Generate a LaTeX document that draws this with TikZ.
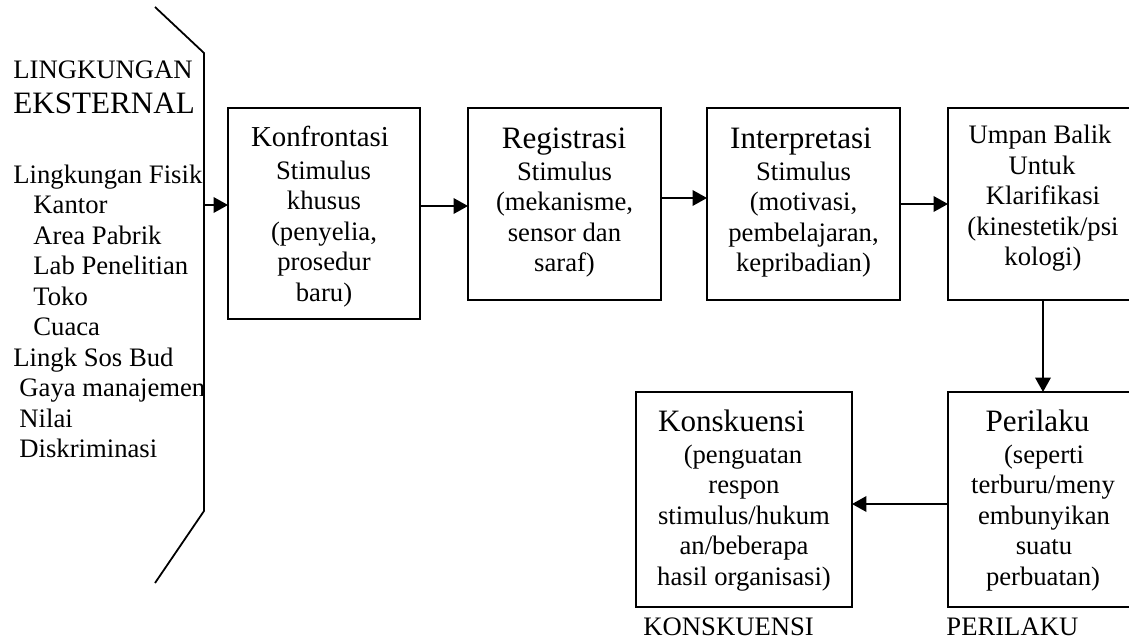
\documentclass[tikz,border=0pt]{standalone}
\usepackage{fontspec}
\setmainfont{Liberation Serif}
\usetikzlibrary{arrows.meta}
\begin{document}
\begin{tikzpicture}[x=0.45pt,y=-0.45pt,
  stepbox/.style={draw, line width=0.8pt, inner sep=0pt, outer sep=0pt},
  arr/.style={line width=0.8pt, -{Triangle[length=6.5pt,width=7pt]}},
  body/.style={anchor=base, inner sep=0pt, font=\fontsize{12}{14}\selectfont},
  ttl/.style={anchor=base, inner sep=0pt, font=\fontsize{14}{16}\selectfont},
  lft/.style={anchor=base west, inner sep=0pt, font=\fontsize{12}{14}\selectfont},
  lftbig/.style={anchor=base west, inner sep=0pt, font=\fontsize{14}{16}\selectfont}]
\useasboundingbox (0,0) rectangle (1129,642);
\clip (0,0) rectangle (1129,642);

% external environment bracket
\draw[line width=0.8pt] (155,7) -- (204,53) -- (204,511) -- (155,583);
\coordinate (ext) at (204,205);

% left texts
\node[lft] (t1) at (13,78) {LINGKUNGAN};
\node[lftbig] (t2) at (13,113) {EKSTERNAL};
\node[lft] (t3) at (13,183) {Lingkungan Fisik};
\node[lft] (t4) at (33,213.5) {Kantor};
\node[lft] (t5) at (33,244) {Area Pabrik};
\node[lft] (t6) at (33,274.5) {Lab Penelitian};
\node[lft] (t7) at (33,305) {Toko};
\node[lft] (t8) at (33,335.5) {Cuaca};
\node[lft] (t9) at (13,366) {Lingk Sos Bud};
\node[lft] (t10) at (19,396.5) {Gaya manajemen};
\node[lft] (t11) at (19,427) {Nilai};
\node[lft] (t12) at (19,457.5) {Diskriminasi};

% boxes
\node[stepbox, minimum width=86.4pt, minimum height=94.95pt] (konf) at (324,213.5) {};
\node[stepbox, minimum width=86.85pt, minimum height=86.4pt] (reg) at (564.5,204) {};
\node[stepbox, minimum width=86.85pt, minimum height=86.4pt] (interp) at (803.5,204) {};
\node[stepbox, minimum width=85.5pt, minimum height=86.4pt] (umpan) at (1043,204) {};
\node[stepbox, minimum width=97.2pt, minimum height=96.75pt] (konsk) at (744,499.5) {};
\node[stepbox, minimum width=85.5pt, minimum height=96.75pt] (peril) at (1043,499.5) {};

% box texts
\node[anchor=base, inner sep=0pt, font=\fontsize{13}{15}\selectfont] (k1) at (320,146) {Konfrontasi};
\node[body] (k2) at (323.5,179) {Stimulus};
\node[body] (k3) at (324,209.5) {khusus};
\node[body] (k4) at (324,240) {(penyelia,};
\node[body] (k5) at (324,270.5) {prosedur};
\node[body] (k6) at (324,301) {baru)};

\node[ttl] (r1) at (564,148) {Registrasi};
\node[body] (r2) at (564.5,180) {Stimulus};
\node[body] (r3) at (564.5,210.5) {(mekanisme,};
\node[body] (r4) at (564.5,241) {sensor dan};
\node[body] (r5) at (564.5,271.5) {saraf)};

\node[ttl] (i1) at (801,148) {Interpretasi};
\node[body] (i2) at (803.5,180) {Stimulus};
\node[body] (i3) at (803.5,210.5) {(motivasi,};
\node[body] (i4) at (803.5,241) {pembelajaran,};
\node[body] (i5) at (803.5,271.5) {kepribadian)};

\node[body] (u1) at (1040,143.5) {Umpan Balik};
\node[body] (u2) at (1042,174) {Untuk};
\node[body] (u3) at (1043,204.5) {Klarifikasi};
\node[body] (u4) at (1043,235) {(kinestetik/psi};
\node[body] (u5) at (1043,265.5) {kologi)};

\node[ttl] (c1) at (731.5,431.5) {Konskuensi};
\node[body] (c2) at (743,463) {(penguatan};
\node[body] (c3) at (744,493.5) {respon};
\node[body] (c4) at (744,524) {stimulus/hukum};
\node[body] (c5) at (744,554.5) {an/beberapa};
\node[body] (c6) at (744,585) {hasil organisasi)};

\node[ttl] (p1) at (1037.5,431.5) {Perilaku};
\node[body] (p2) at (1044,463) {(seperti};
\node[body] (p3) at (1043,493.5) {terburu/meny};
\node[body] (p4) at (1044,524) {embunyikan};
\node[body] (p5) at (1044,554.5) {suatu};
\node[body] (p6) at (1043,585) {perbuatan)};

% bottom labels
\node[lft] (b1) at (643,635) {KONSKUENSI};
\node[lft] (b2) at (946,635) {PERILAKU};

% connectors
\draw[arr] (ext) -- (konf.west |- ext);
\draw[arr] (konf.east |- 0,206) -- (reg.west |- 0,206);
\draw[arr] (reg.east |- 0,198) -- (interp.west |- 0,198);
\draw[arr] (interp.east |- 0,204) -- (umpan.west |- 0,204);
\draw[arr] (umpan.south) -- (peril.north);
\draw[arr] (peril.west |- 0,504) -- (konsk.east |- 0,504);
\end{tikzpicture}
\end{document}
